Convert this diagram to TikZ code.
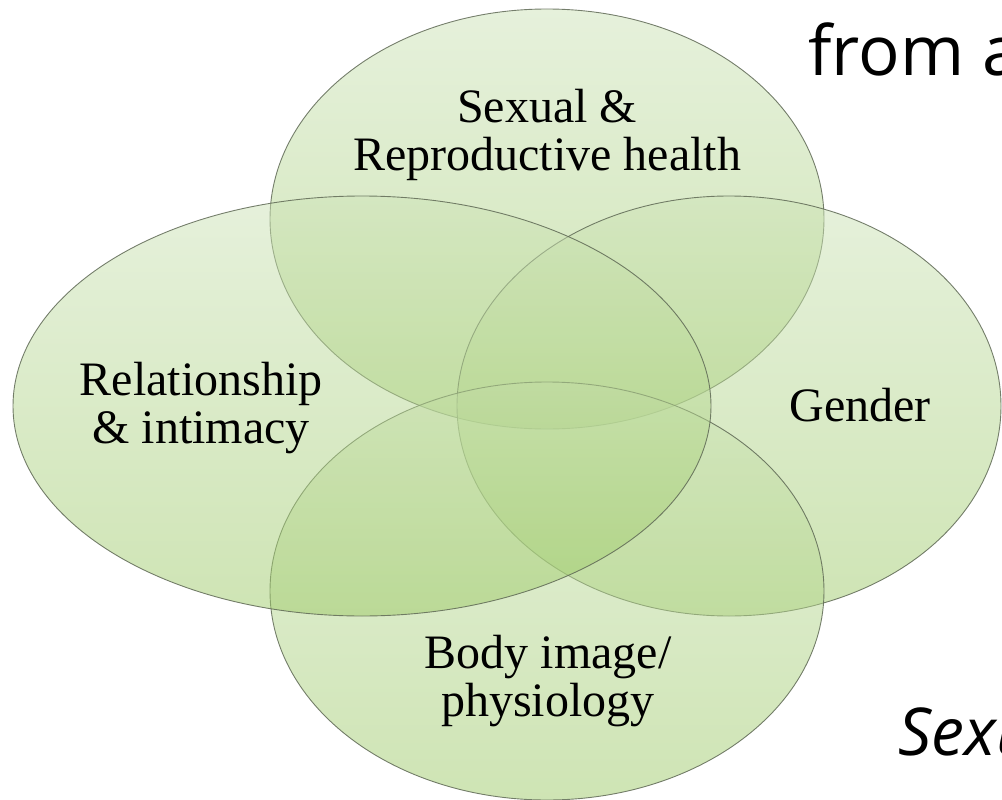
\documentclass[tikz,border=0pt]{standalone}
\usepackage{fontspec}
\setmainfont{Liberation Serif}
\newfontfamily\slidesans{Open Sans}

\definecolor{vennTop}{RGB}{205,227,184}
\definecolor{vennBot}{RGB}{158,202,105}
\definecolor{vennEdge}{RGB}{95,105,85}

\tikzset{
  vennfill/.style={top color=vennTop, bottom color=vennBot, fill opacity=0.5},
  vennline/.style={draw=vennEdge, line width=0.9pt, draw opacity=0.85},
  venntext/.style={inner sep=0pt, align=center, font=\fontsize{48}{48}\selectfont},
  slidetext/.style={inner sep=0pt, anchor=base west}
}

\begin{document}
\begin{tikzpicture}[x=1pt,y=-1pt]
\useasboundingbox (0,0) rectangle (1002,800);
\clip (0,0) rectangle (1002,800);

% four overlapping ellipses: top, right, bottom, left
\foreach \cx/\cy/\rx/\ry in {547/219/277/210, 729/406/272/210, 547/591/277/209, 362/406/349/210} {
  \shade[vennfill] (\cx,\cy) ellipse [x radius=\rx, y radius=\ry];
  \draw[vennline] (\cx,\cy) ellipse [x radius=\rx, y radius=\ry];
}

\node[venntext] (srh)  at (547,134.8) {Sexual \&\\Reproductive health};
\node[venntext] (rel)  at (201,407.8) {Relationship\\\& intimacy};
\node[venntext] (gen)  at (860,404.6) {Gender};
\node[venntext] (body) at (548,680.8) {Body image/\\physiology};

% slide text behind the diagram, running off the right edge
\node[slidetext, font=\slidesans\fontsize{69}{69}\selectfont] (from) at (808,76) {from a};
\node[slidetext, font=\slidesans\itshape\fontsize{66}{66}\selectfont] (sexu) at (898,755) {Sexual};
\end{tikzpicture}
\end{document}
